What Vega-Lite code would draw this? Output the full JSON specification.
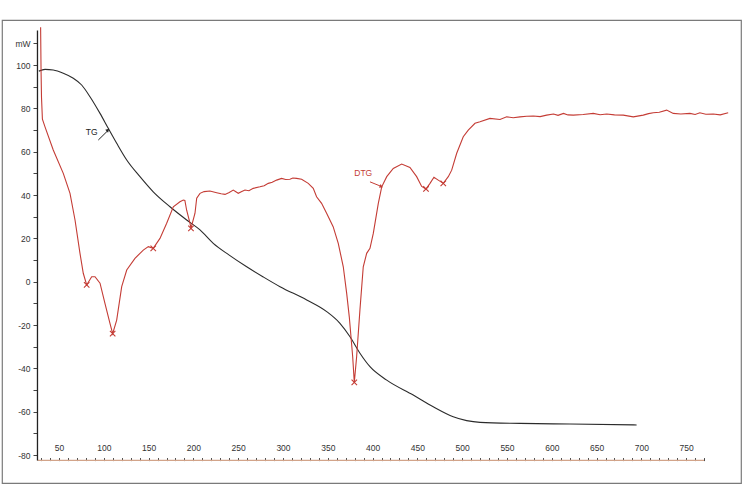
{
  "$schema": "https://vega.github.io/schema/vega-lite/v6.json",
  "width": 739,
  "height": 463,
  "autosize": {"type": "none"},
  "padding": {"left": 2, "top": 20, "right": 4, "bottom": 21},
  "background": "white",
  "config": {"view": {"stroke": "#7a7a7a", "strokeWidth": 1.2}, "font": "Liberation Sans"},
  "datasets": {
    "tg": [
      {"T": 27.5, "v": 97.2}, {"T": 34.4, "v": 98}, {"T": 43.6, "v": 97.7}, {"T": 54.8, "v": 96.2},
      {"T": 66, "v": 93.9}, {"T": 75.3, "v": 90.8}, {"T": 84.6, "v": 85.4}, {"T": 95.8, "v": 77.7},
      {"T": 105, "v": 70.8}, {"T": 114.4, "v": 63.9}, {"T": 125.6, "v": 56.2}, {"T": 140.4, "v": 48.5},
      {"T": 155.2, "v": 41.5}, {"T": 173.9, "v": 34.6}, {"T": 192.5, "v": 28.5}, {"T": 207.4, "v": 23.9},
      {"T": 222.2, "v": 17.7}, {"T": 240, "v": 12.3}, {"T": 259.5, "v": 6.9}, {"T": 278, "v": 2.2},
      {"T": 296.7, "v": -2.3}, {"T": 326.5, "v": -8.4}, {"T": 348.8, "v": -13.8}, {"T": 363.6, "v": -19.2},
      {"T": 374.8, "v": -25.4}, {"T": 385.9, "v": -33}, {"T": 397.1, "v": -39.2}, {"T": 415.8, "v": -45.4},
      {"T": 445.4, "v": -52.3}, {"T": 467.7, "v": -57.7}, {"T": 490, "v": -62.3}, {"T": 505, "v": -64.1},
      {"T": 519.9, "v": -64.9}, {"T": 564.5, "v": -65.4}, {"T": 620.3, "v": -65.7}, {"T": 694.7, "v": -66.1}
    ],
    "dtg": [
      {"T": 29.5, "v": 117.5}, {"T": 30, "v": 97}, {"T": 30.5, "v": 85}, {"T": 31.5, "v": 75},
      {"T": 34.4, "v": 71.5}, {"T": 43.6, "v": 60.8}, {"T": 54.8, "v": 50}, {"T": 62.3, "v": 40.8},
      {"T": 67.9, "v": 28.5}, {"T": 73.4, "v": 13.2}, {"T": 77.1, "v": 3.9}, {"T": 80.9, "v": -1.5},
      {"T": 86.5, "v": 2.3}, {"T": 90.2, "v": 2.3}, {"T": 95.8, "v": -0.7}, {"T": 101.3, "v": -10},
      {"T": 106.9, "v": -19.2}, {"T": 109.9, "v": -24}, {"T": 114.4, "v": -17.7}, {"T": 120, "v": -2.3},
      {"T": 125.6, "v": 5.4}, {"T": 134.8, "v": 10.8}, {"T": 144.1, "v": 14.6}, {"T": 149.7, "v": 16.2},
      {"T": 155.2, "v": 15.4}, {"T": 162.7, "v": 20}, {"T": 170.2, "v": 27}, {"T": 177.6, "v": 34.6},
      {"T": 185, "v": 36.9}, {"T": 188.7, "v": 37.7}, {"T": 190.5, "v": 37.5}, {"T": 192.5, "v": 33},
      {"T": 196.2, "v": 27}, {"T": 197.3, "v": 24.6}, {"T": 201.8, "v": 31.6}, {"T": 203.7, "v": 38.5},
      {"T": 207.4, "v": 40.8}, {"T": 212, "v": 41.6}, {"T": 218.5, "v": 41.9}, {"T": 226, "v": 41.1},
      {"T": 231, "v": 40.6}, {"T": 235.3, "v": 40.3}, {"T": 240, "v": 41.2}, {"T": 244.5, "v": 42.3},
      {"T": 250.1, "v": 40.8}, {"T": 254, "v": 41.6}, {"T": 257.6, "v": 42.3}, {"T": 262, "v": 42.0},
      {"T": 266.8, "v": 43.1}, {"T": 274.3, "v": 43.8}, {"T": 279, "v": 44.3}, {"T": 283.6, "v": 45.4},
      {"T": 288, "v": 45.9}, {"T": 292.9, "v": 46.9}, {"T": 298.5, "v": 47.7}, {"T": 303, "v": 47.2},
      {"T": 307.8, "v": 47.3}, {"T": 311, "v": 47.9}, {"T": 315.2, "v": 47.7}, {"T": 320.8, "v": 47.3},
      {"T": 328.2, "v": 45.4}, {"T": 333.8, "v": 43.1}, {"T": 337.5, "v": 39.2}, {"T": 343.1, "v": 36.2},
      {"T": 348.7, "v": 31.6}, {"T": 356, "v": 25.4}, {"T": 361.7, "v": 17.7}, {"T": 367.3, "v": 6.9},
      {"T": 371.1, "v": -5.4}, {"T": 374, "v": -16.2}, {"T": 377.8, "v": -34.6}, {"T": 379.6, "v": -46.5},
      {"T": 382.2, "v": -34.6}, {"T": 385.9, "v": -13}, {"T": 389.6, "v": 6.9}, {"T": 393.4, "v": 13.1},
      {"T": 397.1, "v": 15.4}, {"T": 400.8, "v": 22.3}, {"T": 406.4, "v": 36.2}, {"T": 410.2, "v": 43.8},
      {"T": 415.8, "v": 48.5}, {"T": 423.1, "v": 52.3}, {"T": 432.5, "v": 54.3}, {"T": 441.7, "v": 52.7},
      {"T": 449.2, "v": 48.5}, {"T": 454.8, "v": 44}, {"T": 459.6, "v": 42.8}, {"T": 464.1, "v": 45.4},
      {"T": 468.5, "v": 48.2}, {"T": 473.3, "v": 46.9}, {"T": 478.9, "v": 45.4}, {"T": 484.5, "v": 48.5},
      {"T": 488.3, "v": 51.5}, {"T": 493.9, "v": 59.3}, {"T": 501.2, "v": 66.9}, {"T": 506.8, "v": 70},
      {"T": 514.3, "v": 73.1}, {"T": 519.9, "v": 73.8}, {"T": 531, "v": 75.4}, {"T": 542.2, "v": 74.9},
      {"T": 549.7, "v": 76.1}, {"T": 557, "v": 75.7}, {"T": 564.5, "v": 76.1}, {"T": 572, "v": 76.4},
      {"T": 579.4, "v": 76.5}, {"T": 587, "v": 76.2}, {"T": 594.3, "v": 76.9}, {"T": 601.9, "v": 77.4},
      {"T": 607, "v": 76.8}, {"T": 613.1, "v": 77.7}, {"T": 618, "v": 77.0}, {"T": 624, "v": 76.9},
      {"T": 635, "v": 77.2}, {"T": 646.3, "v": 77.7}, {"T": 654, "v": 77.1}, {"T": 661.3, "v": 77.4},
      {"T": 670, "v": 77.0}, {"T": 679.8, "v": 76.9}, {"T": 691, "v": 76.1}, {"T": 702.1, "v": 76.9},
      {"T": 708, "v": 77.6}, {"T": 713.3, "v": 78}, {"T": 720, "v": 78.2}, {"T": 728.2, "v": 79.2},
      {"T": 735.6, "v": 77.7}, {"T": 744, "v": 77.4}, {"T": 754.2, "v": 77.7}, {"T": 760, "v": 77.2},
      {"T": 765.3, "v": 78}, {"T": 772, "v": 77.3}, {"T": 780.2, "v": 77.4}, {"T": 788, "v": 77.0},
      {"T": 796.9, "v": 78}
    ],
    "marks": [
      {"T": 80.9, "v": -1.5}, {"T": 109.9, "v": -24}, {"T": 155.2, "v": 15.4}, {"T": 197.3, "v": 24.6},
      {"T": 379.6, "v": -46.5}, {"T": 459.6, "v": 42.8}, {"T": 478.9, "v": 45.4}
    ]
  },
  "encoding": {
    "x": {
      "field": "T", "type": "quantitative",
      "scale": {"domain": [-13.6, 811.2], "nice": false, "zero": false},
      "axis": {
        "orient": "top", "offset": -440.6, "title": null, "domain": false, "grid": false,
        "values": [30,40,50,60,70,80,90,100,110,120,130,140,150,160,170,180,190,200,210,220,230,240,250,260,270,280,290,300,310,320,330,340,350,360,370,380,390,400,410,420,430,440,450,460,470,480,490,500,510,520,530,540,550,560,570,580,590,600,610,620,630,640,650,660,670,680,690,700,710,720,730,740,750,760,770],
        "labelExpr": "datum.value % 50 == 0 ? toString(datum.value) : ''",
        "tickSize": 3,
        "tickColor": "#444", "tickWidth": 1,
        "labelPadding": 5, "labelFontSize": 8.5, "labelColor": "#333", "labelFont": "Liberation Sans"
      }
    },
    "y": {
      "field": "v", "type": "quantitative",
      "scale": {"domain": [-92.9, 120.8], "nice": false, "zero": false},
      "axis": {
        "orient": "left", "offset": -35.5, "title": null, "domain": false, "grid": false,
        "values": [-80,-70,-60,-50,-40,-30,-20,-10,0,10,20,30,40,50,60,70,80,90,100,110],
        "labelExpr": "datum.value == 110 ? 'mW' : (datum.value % 20 == 0 ? toString(datum.value) : '')",
        "tickSize": 4.5,
        "tickColor": "#444", "tickWidth": 1,
        "labelPadding": 3, "labelFontSize": 8.5, "labelColor": "#333", "labelFont": "Liberation Sans"
      }
    }
  },
  "layer": [
    {
      "data": {"values": [{"T": 26, "T2": 770, "v": -82.5}]},
      "mark": {"type": "rule", "color": "#d2a48a", "strokeWidth": 1.2},
      "encoding": {"x2": {"field": "T2"}}
    },
    {
      "data": {"values": [{"T": 26, "v": -82.5, "v2": 116}]},
      "mark": {"type": "rule", "color": "#222", "strokeWidth": 1.3},
      "encoding": {"y2": {"field": "v2"}}
    },
    {
      "data": {"name": "tg"},
      "mark": {"type": "line", "color": "#2b2b2b", "strokeWidth": 1.1, "interpolate": "monotone"},
      "encoding": {}
    },
    {
      "data": {"name": "dtg"},
      "mark": {"type": "line", "color": "#c43c35", "strokeWidth": 1.1},
      "encoding": {}
    },
    {
      "data": {"name": "marks"},
      "mark": {"type": "point", "shape": "M-1,-1L1,1M-1,1L1,-1", "filled": false, "stroke": "#c43c35", "strokeWidth": 1.1, "size": 30, "opacity": 1},
      "encoding": {}
    },
    {
      "data": {"values": [{"T": 86.5, "v": 69.2, "label": "TG"}]},
      "mark": {"type": "text", "color": "#222", "fontSize": 8.5, "font": "Liberation Sans", "align": "center", "baseline": "middle"},
      "encoding": {"text": {"field": "label"}}
    },
    {
      "data": {"values": [{"T": 389.6, "v": 50, "label": "DTG"}]},
      "mark": {"type": "text", "color": "#c43c35", "fontSize": 8.5, "font": "Liberation Sans", "align": "center", "baseline": "middle"},
      "encoding": {"text": {"field": "label"}}
    },
    {
      "data": {"values": [{"T": 93.9, "v": 65.4, "T2": 104.2, "v2": 69.6}]},
      "mark": {"type": "rule", "color": "#222", "strokeWidth": 1},
      "encoding": {"x2": {"field": "T2"}, "y2": {"field": "v2"}}
    },
    {
      "data": {"values": [{"T": 104.6, "v": 70}]},
      "mark": {"type": "point", "shape": "triangle-up", "filled": true, "color": "#222", "size": 16, "angle": 45, "opacity": 1},
      "encoding": {}
    },
    {
      "data": {"values": [{"T": 397.1, "v": 46.1, "T2": 409.6, "v2": 44}]},
      "mark": {"type": "rule", "color": "#c43c35", "strokeWidth": 1},
      "encoding": {"x2": {"field": "T2"}, "y2": {"field": "v2"}}
    },
    {
      "data": {"values": [{"T": 409.8, "v": 43.9}]},
      "mark": {"type": "point", "shape": "triangle-up", "filled": true, "color": "#c43c35", "size": 16, "angle": 113, "opacity": 1},
      "encoding": {}
    }
  ]
}
